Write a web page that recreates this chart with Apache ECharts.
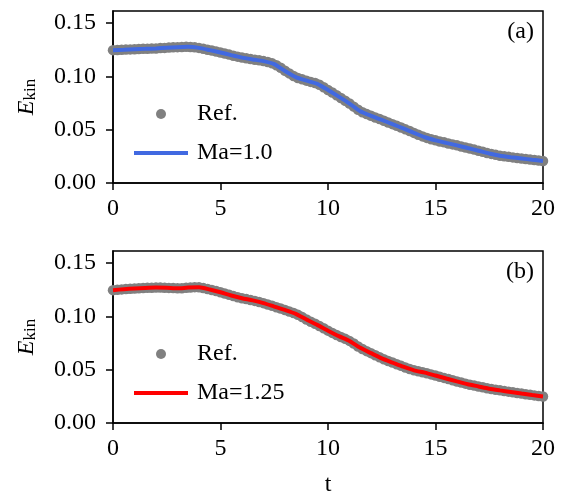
<!DOCTYPE html>
<html>
<head>
<meta charset="utf-8">
<script src="https://cdn.jsdelivr.net/npm/echarts@6/dist/echarts.min.js"></script>
<style>
  html, body { margin: 0; padding: 0; background: #fff; }
  #chart { width: 565px; height: 492px; }
</style>
</head>
<body>
<div id="chart"></div>
<script>
// time grids (t)
var tRefStep = 0.2;
var tLineStep = 0.5;

// panel (a): reference dots, every 0.2
var refA = [
  0.1246, 0.1248, 0.1249, 0.1251, 0.1253, 0.1255, 0.1256, 0.1258, 0.1259, 0.1261,
  0.1262, 0.1265, 0.1267, 0.1270, 0.1272, 0.1274, 0.1276, 0.1277, 0.1276, 0.1272,
  0.1267, 0.1259, 0.1250, 0.1242, 0.1233, 0.1224, 0.1214, 0.1204, 0.1194, 0.1185,
  0.1176, 0.1169, 0.1162, 0.1156, 0.1150, 0.1143, 0.1135, 0.1122, 0.1105, 0.1080,
  0.1052, 0.1028, 0.1003, 0.0985, 0.0972, 0.0960, 0.0948, 0.0937, 0.0922, 0.0898,
  0.0872, 0.0848, 0.0823, 0.0797, 0.0771, 0.0745, 0.0716, 0.0687, 0.0664, 0.0646,
  0.0630, 0.0615, 0.0600, 0.0584, 0.0568, 0.0552, 0.0536, 0.0520, 0.0503, 0.0487,
  0.0470, 0.0453, 0.0437, 0.0423, 0.0411, 0.0400, 0.0390, 0.0381, 0.0371, 0.0362,
  0.0353, 0.0343, 0.0333, 0.0323, 0.0313, 0.0303, 0.0293, 0.0282, 0.0273, 0.0264,
  0.0256, 0.0250, 0.0245, 0.0240, 0.0235, 0.0230, 0.0225, 0.0220, 0.0216, 0.0211,
  0.0207
];
// panel (a): Ma=1.0, every 0.5
var maA = [
  0.1246, 0.1250, 0.1255, 0.1258, 0.1262, 0.1268, 0.1274, 0.1277, 0.1267, 0.1246,
  0.1224, 0.1199, 0.1176, 0.1159, 0.1143, 0.1115, 0.1050, 0.0993, 0.0960, 0.0930,
  0.0872, 0.0810, 0.0745, 0.0673, 0.0630, 0.0592, 0.0552, 0.0512, 0.0470, 0.0429,
  0.0400, 0.0376, 0.0353, 0.0328, 0.0303, 0.0277, 0.0256, 0.0242, 0.0230, 0.0218,
  0.0207
];

// panel (b): reference dots, every 0.2
var refB = [
  0.1246, 0.1250, 0.1253, 0.1256, 0.1259, 0.1262, 0.1264, 0.1266, 0.1268, 0.1269,
  0.1270, 0.1270, 0.1269, 0.1267, 0.1265, 0.1263, 0.1264, 0.1268, 0.1271, 0.1274,
  0.1272, 0.1265, 0.1256, 0.1247, 0.1237, 0.1226, 0.1214, 0.1202, 0.1190, 0.1180,
  0.1170, 0.1162, 0.1154, 0.1145, 0.1135, 0.1124, 0.1111, 0.1099, 0.1086, 0.1073,
  0.1060, 0.1046, 0.1031, 0.1014, 0.0993, 0.0970, 0.0950, 0.0930, 0.0909, 0.0888,
  0.0866, 0.0845, 0.0825, 0.0806, 0.0789, 0.0770, 0.0745, 0.0718, 0.0694, 0.0674,
  0.0655, 0.0635, 0.0616, 0.0598, 0.0582, 0.0567, 0.0551, 0.0536, 0.0521, 0.0507,
  0.0494, 0.0485, 0.0476, 0.0467, 0.0456, 0.0445, 0.0434, 0.0423, 0.0412, 0.0401,
  0.0390, 0.0380, 0.0369, 0.0359, 0.0351, 0.0343, 0.0335, 0.0326, 0.0319, 0.0312,
  0.0306, 0.0300, 0.0294, 0.0288, 0.0282, 0.0276, 0.0270, 0.0265, 0.0259, 0.0254,
  0.0249
];
// panel (b): Ma=1.25, every 0.5
var maB = [
  0.1246, 0.1255, 0.1262, 0.1267, 0.1270, 0.1268, 0.1263, 0.1270, 0.1272, 0.1252,
  0.1226, 0.1196, 0.1170, 0.1150, 0.1124, 0.1092, 0.1060, 0.1024, 0.0970, 0.0920,
  0.0866, 0.0815, 0.0770, 0.0705, 0.0655, 0.0606, 0.0567, 0.0528, 0.0494, 0.0472,
  0.0445, 0.0417, 0.0390, 0.0364, 0.0343, 0.0322, 0.0306, 0.0291, 0.0276, 0.0262,
  0.0249
];

var xTicks = [0, 5, 10, 15, 20];
var yTicks = [0.00, 0.05, 0.10, 0.15];

function pairs(step, arr) {
  var out = [];
  for (var i = 0; i < arr.length; i++) {
    out.push([+(i * step).toFixed(2), arr[i]]);
  }
  return out;
}

var font = 'Liberation Serif';
var fs = 24;
var lineIcon = 'path://M0,0L54,0L54,4L0,4Z';

function xAxisFor(idx, showName) {
  return {
    type: 'value', gridIndex: idx,
    min: xTicks[0], max: xTicks[xTicks.length - 1], interval: 5,
    name: showName ? 't' : '',
    nameLocation: 'middle', nameGap: 50,
    nameTextStyle: { fontFamily: font, fontSize: fs, color: '#000' },
    axisLine: { show: true, lineStyle: { color: '#000', width: 1.5 } },
    axisTick: { show: true, length: 7, lineStyle: { color: '#000', width: 1.5 } },
    axisLabel: { fontFamily: font, fontSize: fs, color: '#000', margin: 14 },
    splitLine: { show: false }
  };
}

function yAxisFor(idx) {
  return {
    type: 'value', gridIndex: idx,
    min: 0, max: 0.1613, interval: 0.05,
    name: '{e|E}{s|kin}',
    nameLocation: 'middle', nameGap: 74, nameRotate: 90,
    nameTextStyle: {
      color: '#000',
      rich: {
        e: { fontFamily: font, fontStyle: 'italic', fontSize: fs, lineHeight: 24, verticalAlign: 'bottom', color: '#000' },
        s: { fontFamily: font, fontSize: 17, lineHeight: 11, verticalAlign: 'bottom', color: '#000' }
      }
    },
    axisLine: { show: true, lineStyle: { color: '#000', width: 1.5 } },
    axisTick: { show: true, length: 7, lineStyle: { color: '#000', width: 1.5 } },
    axisLabel: {
      fontFamily: font, fontSize: fs, color: '#000', margin: 17,
      showMaxLabel: false,
      formatter: function (v) { return yTicks.indexOf(+v.toFixed(2)) >= 0 ? v.toFixed(2) : ''; }
    },
    splitLine: { show: false }
  };
}

function legendFor(top, refName, maName) {
  return {
    left: 134, top: top, orient: 'vertical', padding: 0,
    itemWidth: 54, itemHeight: 10, itemGap: 15,
    selectedMode: false,
    textStyle: { fontFamily: font, fontSize: fs, color: '#000', lineHeight: 20, padding: [0, 0, 0, 4] },
    data: [{ name: refName, icon: 'circle' }, { name: maName, icon: lineIcon }]
  };
}

var gridBase = {
  left: 113, width: 430, height: 172, show: true,
  borderColor: '#000', borderWidth: 1.5, backgroundColor: 'transparent',
  containLabel: false, outerBoundsMode: 'none'
};

var chart = echarts.init(document.getElementById('chart'));
chart.setOption({
  animation: false,
  backgroundColor: '#fff',
  grid: [
    Object.assign({ top: 11 }, gridBase),
    Object.assign({ top: 251 }, gridBase)
  ],
  xAxis: [xAxisFor(0, false), xAxisFor(1, true)],
  yAxis: [yAxisFor(0), yAxisFor(1)],
  legend: [
    legendFor(102, 'Ref.', 'Ma=1.0'),
    legendFor(342, 'Ref. ', 'Ma=1.25')
  ],
  graphic: [
    { type: 'text', right: 31, top: 20, style: { text: '(a)', font: fs + 'px ' + font, fill: '#000' } },
    { type: 'text', right: 31, top: 260, style: { text: '(b)', font: fs + 'px ' + font, fill: '#000' } }
  ],
  series: [
    {
      name: 'Ref.', type: 'scatter', xAxisIndex: 0, yAxisIndex: 0, clip: true,
      data: pairs(tRefStep, refA), symbolSize: 10.5,
      itemStyle: { color: '#808080', opacity: 1 }, z: 2
    },
    {
      name: 'Ma=1.0', type: 'line', xAxisIndex: 0, yAxisIndex: 0, clip: true,
      data: pairs(tLineStep, maA), showSymbol: false, symbol: 'none', smooth: 0.2,
      lineStyle: { color: '#4169e1', width: 4 }, itemStyle: { color: '#4169e1' }, z: 3
    },
    {
      name: 'Ref. ', type: 'scatter', xAxisIndex: 1, yAxisIndex: 1, clip: true,
      data: pairs(tRefStep, refB), symbolSize: 10.5,
      itemStyle: { color: '#808080', opacity: 1 }, z: 2
    },
    {
      name: 'Ma=1.25', type: 'line', xAxisIndex: 1, yAxisIndex: 1, clip: true,
      data: pairs(tLineStep, maB), showSymbol: false, symbol: 'none', smooth: 0.2,
      lineStyle: { color: '#ff0000', width: 4 }, itemStyle: { color: '#ff0000' }, z: 3
    }
  ]
});
</script>
</body>
</html>
